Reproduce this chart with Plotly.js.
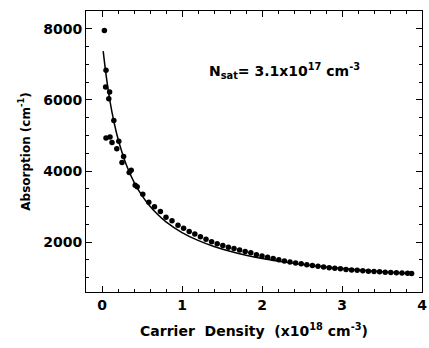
<!DOCTYPE html>
<html>
<head>
<meta charset="utf-8">
<script src="https://cdn.plot.ly/plotly-3.0.1.min.js"></script>
<style>html,body{margin:0;padding:0;background:#fff;}#chart{width:429px;height:348px;}</style>
</head>
<body>
<div id="chart"></div>
<script>
// Measured absorption vs carrier density (x10^18 cm^-3)
var densityPts = [0.03, 0.05, 0.045, 0.095, 0.085, 0.148, 0.05, 0.10, 0.125, 0.21, 0.185, 0.27, 0.25, 0.34, 0.365, 0.415, 0.44,
  0.51, 0.585, 0.656, 0.73, 0.80, 0.875, 0.95, 1.02, 1.09, 1.16, 1.23, 1.30, 1.37, 1.44, 1.51, 1.58, 1.65, 1.72, 1.79, 1.86, 1.93,
  2.00, 2.07, 2.14, 2.21, 2.28, 2.35, 2.42, 2.49, 2.56, 2.63, 2.70, 2.77, 2.84, 2.91, 2.98, 3.05, 3.12, 3.19, 3.26, 3.33, 3.40,
  3.47, 3.54, 3.61, 3.68, 3.75, 3.82, 3.87];
var absorptionPts = [7950, 6835, 6360, 6220, 6030, 5420, 4930, 4960, 4800, 4840, 4630, 4410, 4240, 3960, 4020, 3600, 3560,
  3350, 3120, 3000, 2860, 2700, 2600, 2480, 2390, 2300, 2230, 2150, 2080, 2010, 1960, 1905, 1860, 1820, 1780, 1740, 1700, 1650,
  1610, 1575, 1540, 1505, 1475, 1445, 1418, 1392, 1368, 1345, 1322, 1302, 1284, 1267, 1251, 1236, 1222, 1209, 1197, 1186, 1176,
  1166, 1157, 1149, 1141, 1134, 1127, 1122];
// Fitted curve
var fitDensity = [0.015, 0.05, 0.1, 0.15, 0.2, 0.3, 0.4, 0.5, 0.6, 0.7, 0.8, 1.0, 1.2, 1.4, 1.6, 1.8, 2.0, 2.4, 2.8, 3.2, 3.6, 3.9];
var fitAbsorption = [7370, 6720, 5960, 5380, 4910, 4200, 3690, 3310, 3010, 2770, 2570, 2270, 2050, 1880, 1745, 1635, 1545, 1405, 1300, 1220, 1155, 1115];
var xTickVals = [0, 1, 2, 3, 4];
var yTickVals = [2000, 4000, 6000, 8000];

var fam = "DejaVu Sans, Liberation Sans, Arial, sans-serif";
var tickFont = {family: fam, size: 14, color: "#000", weight: "bold"};
var xTitleFont = {family: fam, size: 14, color: "#000", weight: "bold"};
var yTitleFont = {family: fam, size: 12, color: "#000", weight: "bold"};

var traces = [
  {x: fitDensity, y: fitAbsorption, mode: "lines", line: {color: "#000", width: 1.5, shape: "spline"}, hoverinfo: "skip", showlegend: false},
  {x: densityPts, y: absorptionPts, mode: "markers", marker: {color: "#000", size: 5.5, symbol: "circle"}, showlegend: false}
];

var axisCommon = {
  showgrid: false, zeroline: false, showline: true, linecolor: "#000", linewidth: 1, mirror: "ticks",
  ticks: "inside", ticklen: 6, tickwidth: 1, tickcolor: "#000", tickfont: tickFont
};

var layout = {
  width: 429, height: 348,
  margin: {l: 86, r: 7, t: 11, b: 56},
  paper_bgcolor: "#fff", plot_bgcolor: "#fff",
  font: tickFont,
  xaxis: Object.assign({}, axisCommon, {
    range: [-0.2, 4.0], tickvals: xTickVals, ticktext: xTickVals.map(String),
    minor: {dtick: 0.2, tick0: 0, ticks: "inside", ticklen: 3, tickcolor: "#000", tickwidth: 1},
    title: {text: "Carrier  Density  (x10<sup>18</sup> cm<sup>-3</sup>)", font: xTitleFont, standoff: 14}
  }),
  yaxis: Object.assign({}, axisCommon, {
    range: [600, 8500], tickvals: yTickVals, ticktext: yTickVals.map(String),
    minor: {dtick: 500, tick0: 0, ticks: "inside", ticklen: 3, tickcolor: "#000", tickwidth: 1},
    title: {text: "Absorption (cm<sup>-1</sup>)", font: yTitleFont, standoff: 10}
  }),
  annotations: [{
    x: 2.28, y: 6800, xref: "x", yref: "y", showarrow: false,
    text: "N<sub>sat</sub>= 3.1x10<sup>17</sup> cm<sup>-3</sup>", font: tickFont
  }]
};

Plotly.newPlot("chart", traces, layout, {displayModeBar: false, staticPlot: true});
</script>
</body>
</html>
